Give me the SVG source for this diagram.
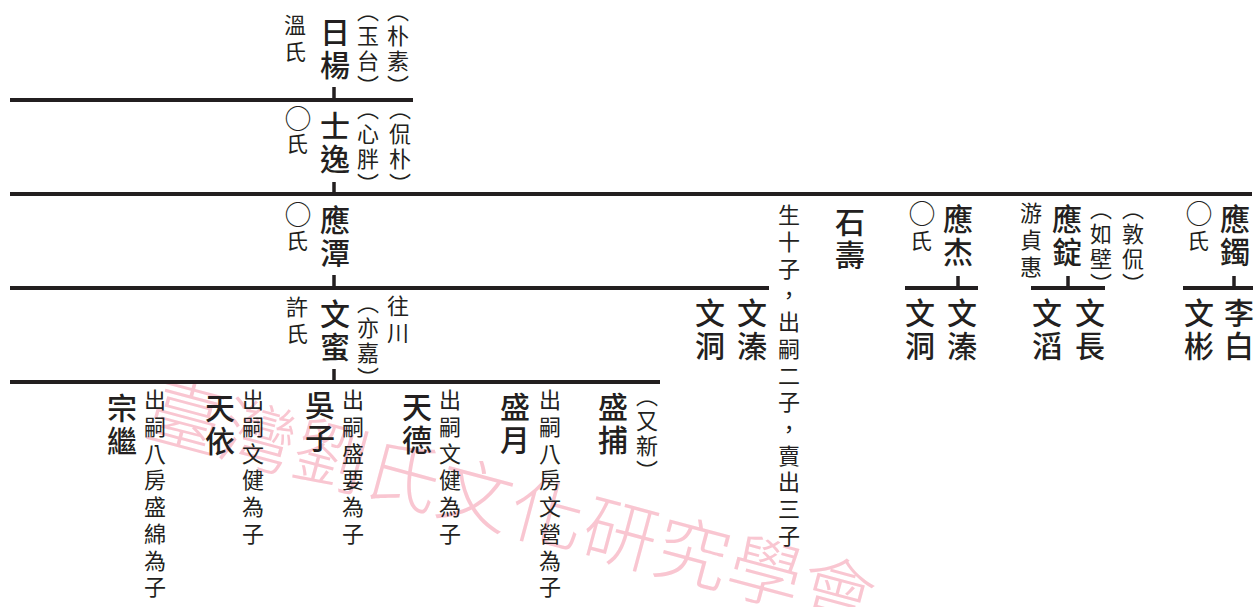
<svg xmlns="http://www.w3.org/2000/svg" width="1259" height="607" viewBox="0 0 1259 607">
<style>
text{font-family:"Noto Sans CJK TC","Noto Sans CJK SC",sans-serif;fill:#231f20;writing-mode:vertical-rl;}
.n{font-size:30px;font-weight:500;letter-spacing:3px;}
.s{font-size:22px;letter-spacing:4.7px;}
.p{font-size:22px;letter-spacing:3px;}
.o{font-size:27px;}
.wm{writing-mode:horizontal-tb;font-size:74px;font-weight:300;fill:#f9c6d1;letter-spacing:1px;}
.ln{stroke:#231f20;stroke-width:4;fill:none;}
.tk{stroke:#231f20;stroke-width:3.5;fill:none;}
</style>
<rect width="1259" height="607" fill="#ffffff"/>
<text class="wm" transform="translate(143,434) rotate(15)">臺灣劉氏文化研究學會</text>
<g id="connectors">
<line class="ln" x1="10" y1="100" x2="413" y2="100"/>
<line class="ln" x1="10" y1="194" x2="1252" y2="194"/>
<line class="ln" x1="10" y1="288" x2="769" y2="288"/>
<line class="ln" x1="10" y1="382" x2="660" y2="382"/>
<line class="ln" x1="905" y1="288" x2="978" y2="288"/>
<line class="ln" x1="1031" y1="288" x2="1105" y2="288"/>
<line class="ln" x1="1183" y1="288" x2="1253" y2="288"/>
<line class="tk" x1="334" y1="87" x2="334" y2="100"/>
<line class="tk" x1="334" y1="182" x2="334" y2="194"/>
<line class="tk" x1="334" y1="275" x2="334" y2="288"/>
<line class="tk" x1="334" y1="369" x2="334" y2="382"/>
<line class="tk" x1="958" y1="276" x2="958" y2="288"/>
<line class="tk" x1="1068" y1="276" x2="1068" y2="288"/>
<line class="tk" x1="1234" y1="276" x2="1234" y2="288"/>
</g>
<g id="riyang">
<text class="s" x="295" y="14">溫氏</text>
<text class="n" x="335" y="17">日楊</text>
<text class="p" x="368" y="0">（玉台）</text>
<text class="p" x="398" y="0">（朴素）</text>
</g>
<g id="shiyi">
<text class="o" x="298" y="105">○</text>
<text class="s" x="297" y="133">氏</text>
<text class="n" x="335" y="111">士逸</text>
<text class="p" x="368" y="98">（心胖）</text>
<text class="p" x="400" y="98">（侃朴）</text>
</g>
<g id="yingtan">
<text class="o" x="298" y="201">○</text>
<text class="s" x="297" y="230">氏</text>
<text class="n" x="335" y="205">應潭</text>
</g>
<g id="wenmi">
<text class="s" x="297" y="296">許氏</text>
<text class="n" x="335" y="299">文蜜</text>
<text class="p" x="368" y="292">（亦嘉）</text>
<text class="s" x="398" y="295">往川</text>
</g>
<g id="zongji">
<text class="n" x="122" y="393">宗繼</text>
<text class="s" x="155" y="389">出嗣八房盛綿為子</text>
</g>
<g id="tianyi">
<text class="n" x="220" y="393">天依</text>
<text class="s" x="253" y="389">出嗣文健為子</text>
</g>
<g id="wuzi">
<text class="n" x="320" y="390">吳子</text>
<text class="s" x="353" y="389">出嗣盛要為子</text>
</g>
<g id="tiande">
<text class="n" x="417" y="392">天德</text>
<text class="s" x="450" y="389">出嗣文健為子</text>
</g>
<g id="shengyue">
<text class="n" x="515" y="392">盛月</text>
<text class="s" x="550" y="389">出嗣八房文營為子</text>
</g>
<g id="shengbu">
<text class="n" x="613" y="392">盛捕</text>
<text class="p" x="647" y="385">（又新）</text>
</g>
<g id="wendong1"><text class="n" x="710" y="298">文洞</text></g>
<g id="wenzhen1"><text class="n" x="752" y="298">文溱</text></g>
<g id="note"><text class="s" x="789" y="204">生十子，出嗣二子，賣出三子</text></g>
<g id="shishou"><text class="n" x="850" y="207">石壽</text></g>
<g id="yingjie">
<text class="o" x="922" y="200">○</text>
<text class="s" x="921" y="230">氏</text>
<text class="n" x="958" y="204">應杰</text>
</g>
<g id="wendong2"><text class="n" x="920" y="298">文洞</text></g>
<g id="wenzhen2"><text class="n" x="962" y="298">文溱</text></g>
<g id="yingding">
<text class="s" x="1031" y="202">游貞惠</text>
<text class="n" x="1067" y="204">應錠</text>
<text class="p" x="1101" y="198">（如壁）</text>
<text class="p" x="1133" y="198">（敦侃）</text>
</g>
<g id="wentao"><text class="n" x="1047" y="298">文滔</text></g>
<g id="wenchang"><text class="n" x="1090" y="298">文長</text></g>
<g id="yingzhuo">
<text class="o" x="1199" y="200">○</text>
<text class="s" x="1198" y="230">氏</text>
<text class="n" x="1235" y="204">應鐲</text>
</g>
<g id="wenbin"><text class="n" x="1199" y="298">文彬</text></g>
<g id="libai"><text class="n" x="1239" y="298">李白</text></g>
</svg>
